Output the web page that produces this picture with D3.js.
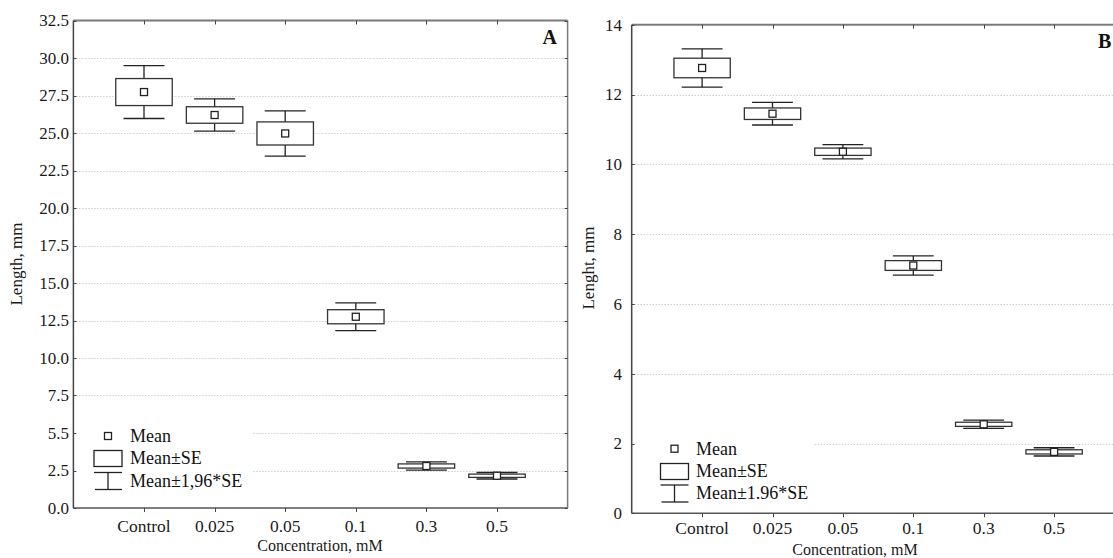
<!DOCTYPE html>
<html>
<head>
<meta charset="utf-8">
<script src="https://cdn.jsdelivr.net/npm/d3@7/dist/d3.min.js"></script>
<style>
  html, body { margin: 0; padding: 0; background: #fff; }
  svg { display: block; font-family: "Liberation Serif", "Times New Roman", serif; }
</style>
</head>
<body>
<svg id="chart" width="1113" height="558"></svg>
<script>
// ---- data ----
const categories = ["Control", "0.025", "0.05", "0.1", "0.3", "0.5"];
const meanA = [27.73, 26.2, 24.97, 12.75, 2.8, 2.15];
const seA   = [0.90, 0.55, 0.77, 0.47, 0.14, 0.11];
const meanB = [12.76, 11.45, 10.36, 7.10, 2.55, 1.76];
const seB   = [0.28, 0.165, 0.105, 0.14, 0.06, 0.06];
const yTickValuesA = [0, 2.5, 5, 7.5, 10, 12.5, 15, 17.5, 20, 22.5, 25, 27.5, 30, 32.5];
const yTickLabelsA = ["0.0", "2.5", "5.5", "7.5", "10.0", "12.5", "15.0", "17.5", "20.0", "22.5", "25.0", "27.5", "30.0", "32.5"];
const yTickValuesB = [0, 2, 4, 6, 8, 10, 12, 14];
const yTickLabelsB = ["0", "2", "4", "6", "8", "10", "12", "14"];
const legendLabelsA = ["Mean", "Mean\u00B1SE", "Mean\u00B11,96*SE"];
const legendLabelsB = ["Mean", "Mean\u00B1SE", "Mean\u00B11.96*SE"];

const svg = d3.select("#chart");

function panel(cfg) {
  const g = svg.append("g");
  const x = d3.scaleLinear().domain([0, categories.length + 1]).range([cfg.left, cfg.right]);
  const y = d3.scaleLinear().domain(cfg.yDomain).range([cfg.bottom, cfg.top]);
  const xc = i => x(i + 1);

  // gridlines
  g.append("g").selectAll("line")
    .data(cfg.tickValues.filter(v => v > cfg.yDomain[0] && v < cfg.yDomain[1]))
    .join("line")
    .attr("x1", cfg.left).attr("x2", cfg.right)
    .attr("y1", d => Math.round(y(d)) + 0.5).attr("y2", d => Math.round(y(d)) + 0.5)
    .attr("stroke", "#b8b8b8").attr("stroke-width", 1).attr("stroke-dasharray", "1,2");

  // legend background (occludes gridlines)
  g.append("rect")
    .attr("x", cfg.legend.bx).attr("y", cfg.legend.by)
    .attr("width", cfg.legend.bw).attr("height", cfg.legend.bh)
    .attr("fill", "#fff");

  // frame
  g.append("line").attr("x1", cfg.left).attr("x2", cfg.right).attr("y1", cfg.top).attr("y2", cfg.top)
    .attr("stroke", "#7a7a7a").attr("stroke-width", 2);
  g.append("line").attr("x1", cfg.right).attr("x2", cfg.right).attr("y1", cfg.top).attr("y2", cfg.bottom)
    .attr("stroke", "#7a7a7a").attr("stroke-width", 1.5);
  g.append("line").attr("x1", cfg.left).attr("x2", cfg.right).attr("y1", cfg.bottom).attr("y2", cfg.bottom)
    .attr("stroke", "#555").attr("stroke-width", 1.5);
  g.append("line").attr("x1", cfg.left).attr("x2", cfg.left).attr("y1", cfg.top).attr("y2", cfg.bottom)
    .attr("stroke", "#444").attr("stroke-width", 1.5);

  // y ticks
  const yt = g.append("g");
  cfg.tickValues.forEach((v, i) => {
    const yy = Math.round(y(v)) + 0.5;
    yt.append("line").attr("x1", cfg.left).attr("x2", cfg.left + 3).attr("y1", yy).attr("y2", yy)
      .attr("stroke", "#444").attr("stroke-width", 1);
    yt.append("line").attr("x1", cfg.right - 3).attr("x2", cfg.right).attr("y1", yy).attr("y2", yy)
      .attr("stroke", "#444").attr("stroke-width", 1);
    yt.append("text").attr("x", cfg.labelX).attr("y", y(v)).attr("dy", "0.35em")
      .attr("text-anchor", "end").attr("font-size", 17).attr("fill", "#1a1a1a")
      .text(cfg.tickLabels[i]);
  });

  // x ticks & labels
  categories.forEach((c, i) => {
    const xx = Math.round(xc(i)) + 0.5;
    g.append("line").attr("x1", xx).attr("x2", xx).attr("y1", cfg.top).attr("y2", cfg.top + 4)
      .attr("stroke", "#444").attr("stroke-width", 1);
    g.append("line").attr("x1", xx).attr("x2", xx).attr("y1", cfg.bottom).attr("y2", cfg.bottom + 4)
      .attr("stroke", "#444").attr("stroke-width", 1);
    g.append("text").attr("x", xc(i)).attr("y", cfg.xLabelY).attr("text-anchor", "middle")
      .attr("font-size", 17.5).attr("fill", "#1a1a1a").text(c);
  });

  // boxes
  const slot = x(1) - x(0);
  const boxW = slot * 0.8, capW = slot * 0.58, sq = 7;
  const marks = g.append("g");
  cfg.mean.forEach((m, i) => {
    const cx = xc(i), s = cfg.se[i];
    const wTop = y(m + 1.96 * s), wBot = y(m - 1.96 * s);
    const bTop = y(m + s), bBot = y(m - s);
    marks.append("line").attr("x1", cx).attr("x2", cx).attr("y1", wTop).attr("y2", wBot)
      .attr("stroke", "#222").attr("stroke-width", 1.3);
    [wTop, wBot].forEach(yy => marks.append("line")
      .attr("x1", cx - capW / 2).attr("x2", cx + capW / 2).attr("y1", yy).attr("y2", yy)
      .attr("stroke", "#222").attr("stroke-width", 1.3));
    marks.append("rect").attr("x", cx - boxW / 2).attr("y", bTop)
      .attr("width", boxW).attr("height", bBot - bTop)
      .attr("fill", "#fff").attr("stroke", "#333").attr("stroke-width", 1.3);
    marks.append("rect").attr("x", cx - sq / 2).attr("y", y(m) - sq / 2)
      .attr("width", sq).attr("height", sq)
      .attr("fill", "#fff").attr("stroke", "#222").attr("stroke-width", 1.3);
  });

  // legend
  const L = cfg.legend;
  g.append("rect").attr("x", L.sx - sq / 2).attr("y", L.y0 - sq / 2).attr("width", sq).attr("height", sq)
    .attr("fill", "#fff").attr("stroke", "#222").attr("stroke-width", 1.3);
  g.append("rect").attr("x", L.sx - 14).attr("y", L.y1 - 8).attr("width", 28).attr("height", 16)
    .attr("fill", "#fff").attr("stroke", "#222").attr("stroke-width", 1.3);
  g.append("line").attr("x1", L.sx - 14).attr("x2", L.sx + 14).attr("y1", L.y2 - 8.5).attr("y2", L.y2 - 8.5)
    .attr("stroke", "#222").attr("stroke-width", 1.3);
  g.append("line").attr("x1", L.sx - 13).attr("x2", L.sx + 14).attr("y1", L.y2 + 8.5).attr("y2", L.y2 + 8.5)
    .attr("stroke", "#222").attr("stroke-width", 1.3);
  g.append("line").attr("x1", L.sx).attr("x2", L.sx).attr("y1", L.y2 - 8.5).attr("y2", L.y2 + 8.5)
    .attr("stroke", "#222").attr("stroke-width", 1.3);
  [L.y0, L.y1, L.y2].forEach((yy, i) => g.append("text")
    .attr("x", L.tx).attr("y", yy).attr("dy", "0.33em").attr("font-size", 18).attr("fill", "#111")
    .text(cfg.legendLabels[i]));

  // titles
  g.append("text").attr("x", cfg.xTitle[0]).attr("y", cfg.xTitle[1]).attr("text-anchor", "middle")
    .attr("font-size", 16).attr("fill", "#1a1a1a").text("Concentration, mM");
  g.append("text").attr("transform", `translate(${cfg.yTitle[0]},${cfg.yTitle[1]}) rotate(-90)`)
    .attr("text-anchor", "middle").attr("font-size", 17).attr("fill", "#1a1a1a").text(cfg.yTitleText);
  g.append("text").attr("x", cfg.letter[0]).attr("y", cfg.letter[1]).attr("text-anchor", cfg.letter[2])
    .attr("font-size", 20).attr("font-weight", "bold").attr("fill", "#111").text(cfg.letterText);
}

panel({
  left: 73.4, right: 567.6, top: 20.5, bottom: 508,
  yDomain: [0, 32.5], tickValues: yTickValuesA, tickLabels: yTickLabelsA,
  mean: meanA, se: seA, labelX: 69, xLabelY: 532,
  legend: { bx: 75, by: 420, bw: 178, bh: 82, sx: 108, tx: 130, y0: 436, y1: 458.5, y2: 481 },
  legendLabels: legendLabelsA,
  xTitle: [320, 551], yTitle: [22, 264], yTitleText: "Length, mm",
  letter: [557, 43.5, "end"], letterText: "A"
});

panel({
  left: 631.7, right: 1124.5, top: 24.7, bottom: 513.3,
  yDomain: [0, 14], tickValues: yTickValuesB, tickLabels: yTickLabelsB,
  mean: meanB, se: seB, labelX: 622, xLabelY: 534,
  legend: { bx: 634, by: 433, bw: 179, bh: 78, sx: 674.5, tx: 696, y0: 448.7, y1: 471.5, y2: 493.5 },
  legendLabels: legendLabelsB,
  xTitle: [855, 555], yTitle: [594, 268], yTitleText: "Lenght, mm",
  letter: [1098, 47.5, "start"], letterText: "B"
});
</script>
</body>
</html>
